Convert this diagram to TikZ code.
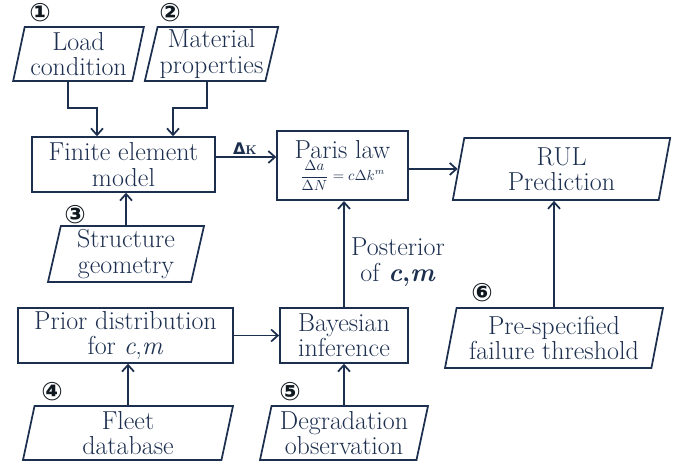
\documentclass[tikz,border=0pt]{standalone}
\usepackage{fontspec}
\newfontfamily\numfont{DejaVu Sans}
\usepackage{tikz}
\usetikzlibrary{arrows.meta, positioning, shapes.geometric}
\definecolor{navy}   {HTML}{1C2F4F}
\definecolor{numcol} {HTML}{101820}

\begin{document}
\begin{tikzpicture}[
    x=0.75pt, y=-0.75pt,
    box/.style={draw=navy, line width=1.3pt, text=navy, align=center,
                inner sep=1pt, font=\fontsize{19.5}{19}\selectfont},
    para/.style={box, trapezium, trapezium left angle=76,
                 trapezium right angle=104, trapezium stretches body},
    num/.style={font=\numfont\bfseries\fontsize{19}{19}\selectfont, text=numcol},
    arr/.style={-{Straight Barb[length=5pt, width=9pt]}, line width=1.3pt, color=navy},
  ]
    \useasboundingbox (0,0) rectangle (683,463);

    % inputs of the finite element model
    \node[para, minimum width=98pt, minimum height=40.5pt] (load) at (78.5,54)
      {Load\\condition};
    \node[para, minimum width=100pt, minimum height=40.5pt] (mat) at (211.5,54)
      {Material\\properties};
    \node[box, minimum width=137pt, minimum height=41pt] (fe) at (123.5,164.5)
      {Finite element\\model};
    \node[para, minimum width=117pt, minimum height=42pt] (geo) at (126,254)
      {Structure\\geometry};

    % crack growth and prediction
    \node[box, minimum width=98pt, minimum height=52pt] (paris) at (342.5,165.5)
      {Paris law\\[-2pt]{\fontsize{10.5}{10.5}\selectfont
       $\displaystyle\frac{\Delta a}{\Delta N}=c\Delta k^{m}$}};
    \node[para, minimum width=163pt, minimum height=46.5pt] (rul) at (561.5,169)
      {RUL\\Prediction};
    \node[para, minimum width=163.5pt, minimum height=45pt] (thr) at (554,338)
      {Pre-specified\\failure threshold};

    % Bayesian updating
    \node[box, minimum width=161pt, minimum height=41pt] (prior) at (125.5,335.5)
      {Prior distribution\\for \textit{c},\textit{m}};
    \node[box, minimum width=96pt, minimum height=41pt] (bayes) at (344,335.5)
      {Bayesian\\inference};
    \node[para, minimum width=157.5pt, minimum height=40.5pt] (fleet) at (128,433)
      {Fleet\\database};
    \node[para, minimum width=126pt, minimum height=40.5pt] (deg) at (344,433)
      {Degradation\\observation};

    % labels
    \node[num] (n1) at (40,13)   {①};
    \node[num] (n2) at (170,13)  {②};
    \node[num] (n3) at (75,215)  {③};
    \node[num] (n4) at (52,392)  {④};
    \node[num] (n5) at (290,392) {⑤};
    \node[num] (n6) at (482,293) {⑥};
    \node[text=navy, font=\bfseries\fontsize{12}{12}\selectfont] (dk) at (245,149)
      {{\numfont Δ}{\fontsize{9.5}{9.5}\selectfont K}};
    \node[text=navy, align=center, font=\fontsize{19.5}{19}\selectfont] (post) at (398,262)
      {Posterior\\of \textbf{\textit{c},\textit{m}}};

    \coordinate (j1) at (97,108);
    \coordinate (j2) at (173,108);

    \draw[arr] ([xshift=-7.9pt]load.south) |- (j1) -- (j1 |- fe.north);
    \draw[arr] ([xshift=-3.4pt]mat.south)  |- (j2) -- (j2 |- fe.north);
    \draw[arr] (geo.north) -- (geo.north |- fe.south);
    \draw[arr] ([yshift=5.6pt]fe.east) coordinate (fk) -- (fk -| paris.west);
    \draw[arr] ([yshift=-2.6pt]paris.east) coordinate (pr) -- (pr -| rul.west);
    \draw[arr] (thr.north) -- (thr.north |- rul.south);
    \draw[arr] (bayes.north) -- (bayes.north |- paris.south);
    \draw[arr] (prior) -- (bayes);
    \draw[arr] (fleet.north) -- (fleet.north |- prior.south);
    \draw[arr] (deg) -- (bayes);
  \end{tikzpicture}
\end{document}
